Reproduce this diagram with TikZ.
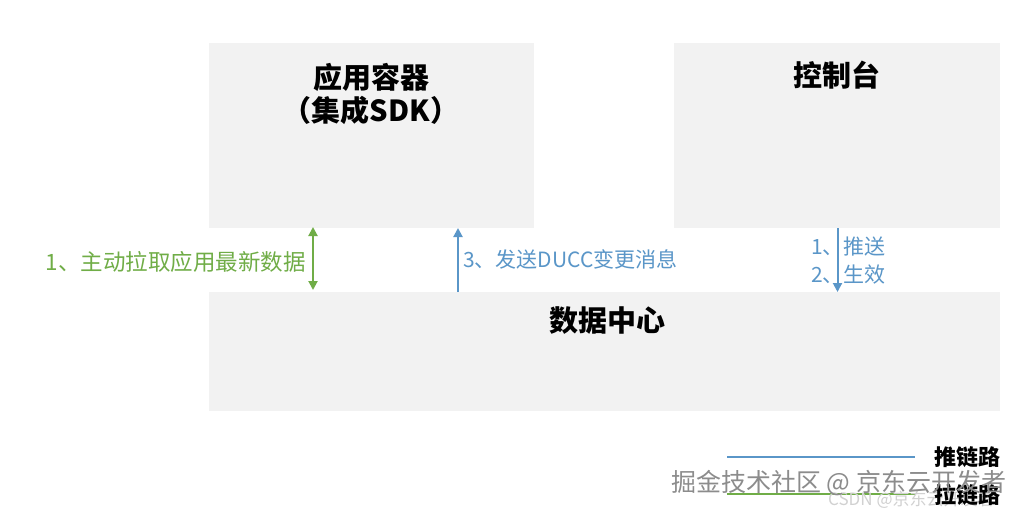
\documentclass[tikz,border=0pt]{standalone}
\usepackage{fontspec}
\setmainfont{Noto Sans CJK SC}
\usetikzlibrary{arrows.meta}
\definecolor{boxgray}{HTML}{F2F2F2}
\definecolor{pullgreen}{HTML}{70AD47}
\definecolor{pushblue}{HTML}{5A96C8}
\tikzset{
  panel/.style={fill=boxgray, draw=none},
  title/.style={font=\fontsize{29}{33}\selectfont\bfseries, text=black, inner sep=0pt},
  lbl/.style={font=\fontsize{21}{28}\selectfont, inner sep=0pt},
  tip/.style={Triangle[width=9pt,length=9pt]},
  pullarrow/.style={draw=pullgreen, line width=2pt, {Triangle[width=9pt,length=9pt]}-{Triangle[width=9pt,length=9pt]}},
  pusharrow/.style={draw=pushblue, line width=2pt, -{Triangle[width=9pt,length=9pt]}},
  legendtxt/.style={font=\fontsize{22}{24}\selectfont\bfseries, text=black, inner sep=0pt, anchor=west},
}
\begin{document}
\begin{tikzpicture}[x=1pt,y=-1pt]
\useasboundingbox (0,0) rectangle (1024,513);
\fill[white] (0,0) rectangle (1024,513);
% panels
\path[panel] (209,43) rectangle (534,228);
\path[panel] (674,43) rectangle (1000,228);
\path[panel] (209,292) rectangle (1000,411);
\node[title, align=center] (app) at (371,94) {应用容器\\（集成SDK）};
\node[title] (console) at (837,75) {控制台};
\node[title] (dc) at (607,321) {数据中心};
% connectors
\coordinate (pullA) at (313,227);
\coordinate (pullB) at (313,290);
\draw[pullarrow] (pullA) -- (pullB);
\node[lbl, font=\fontsize{22.5}{28}\selectfont, text=pullgreen, anchor=east] (pulltxt) at (306,262) {1、主动拉取应用最新数据};
\coordinate (msgA) at (458,292);
\coordinate (msgB) at (458,228);
\draw[pusharrow] (msgA) -- (msgB);
\node[lbl, text=pushblue, anchor=west] (msgtxt) at (463,259) {3、发送DUCC变更消息};
\coordinate (pushA) at (837.5,228);
\coordinate (pushB) at (837.5,292);
\draw[pusharrow] (pushA) -- (pushB);
\node[lbl, text=pushblue, align=left, anchor=west] (pushtxt) at (811,261) {1、推送\\2、生效};
% legend
\coordinate (lgA1) at (727,457);
\coordinate (lgA2) at (915,457);
\draw[pushblue, line width=1.6pt] (lgA1) -- (lgA2);
\node[legendtxt] (lgApush) at (934,457) {推链路};
\coordinate (lgB1) at (727,494);
\coordinate (lgB2) at (915,494);
\draw[pullgreen, line width=1.6pt] (lgB1) -- (lgB2);
\node[font=\fontsize{17}{20}\selectfont, text=black!18, inner sep=0pt, anchor=west] (wm2) at (828,500) {CSDN @京东云开发者};
\node[legendtxt] (lgBpull) at (934,495) {拉链路};
% watermark
\node[font=\fontsize{25}{30}\selectfont, text=black!45, inner sep=0pt, anchor=west] (wm1) at (671,483) {掘金技术社区 @ 京东云开发者};
\end{tikzpicture}
\end{document}
